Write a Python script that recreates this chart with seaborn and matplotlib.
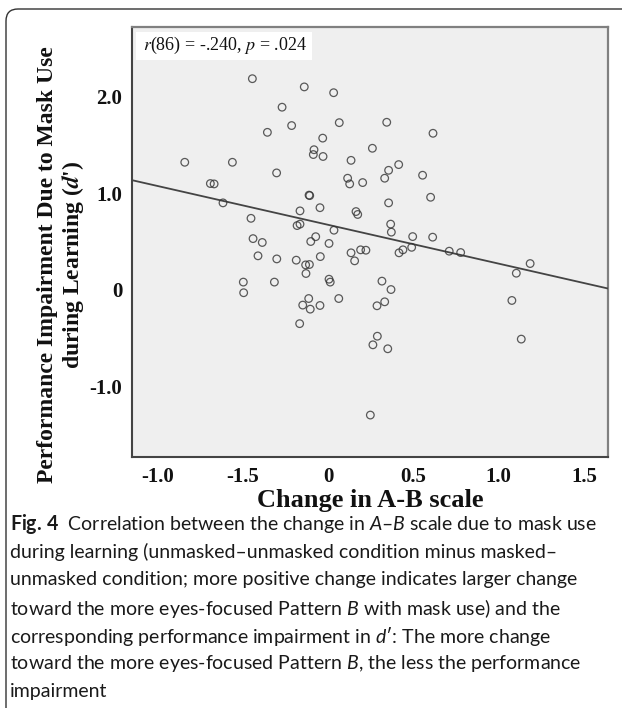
import numpy as np
import pandas as pd
import matplotlib
matplotlib.use("Agg")
import matplotlib.pyplot as plt
import seaborn as sns
from matplotlib.patches import FancyBboxPatch, Rectangle
from matplotlib.transforms import IdentityTransform

# ---------------- data ----------------
change_ab = [
    -0.443, -0.139, 0.033, -0.269, -0.213, 0.066, -0.355, -0.031, -0.082, -0.086,
    -0.029, -0.839, -0.560, 0.135, -0.301, 0.115, 0.127, 0.203, -0.689, -0.667,
    -0.111, -0.107, -0.615, -0.047, -0.164, 0.164, 0.174, -0.451, -0.181, -0.164,
    0.035, -0.439, -0.385, -0.101, -0.072, 0.006,
    0.344, 0.615, 0.260, 0.414, 0.355, 0.332, 0.554, 0.601, 0.355, 0.367,
    0.371, 0.496, 0.613,
    -0.410, -0.300, -0.186, -0.131, -0.109, -0.045, 0.135, 0.156, 0.191, 0.222,
    -0.129, -0.496, -0.494, -0.314, 0.006, 0.013, -0.113, -0.148, -0.104, -0.047,
    0.063, -0.166,
    0.416, 0.439, 0.490, 0.710, 0.777, 1.184, 1.103, 0.316, 0.369, 0.332,
    0.287, 1.077, 0.289, 0.263, 0.350, 1.132, 0.248,
]
impairment = [
    2.185, 2.100, 2.040, 1.890, 1.700, 1.730, 1.630, 1.570, 1.450, 1.400,
    1.380, 1.320, 1.320, 1.340, 1.210, 1.155, 1.096, 1.110, 1.100, 1.096,
    0.980, 0.975, 0.900, 0.850, 0.817, 0.810, 0.780, 0.740, 0.665, 0.680,
    0.617, 0.530, 0.490, 0.500, 0.550, 0.480,
    1.734, 1.620, 1.465, 1.296, 1.237, 1.155, 1.186, 0.958, 0.900, 0.680,
    0.597, 0.551, 0.545,
    0.352, 0.320, 0.307, 0.258, 0.262, 0.344, 0.383, 0.300, 0.414, 0.410,
    0.169, 0.080, -0.030, 0.080, 0.110, 0.080, -0.090, -0.158, -0.200, -0.162,
    -0.090, -0.350,
    0.383, 0.414, 0.440, 0.400, 0.386, 0.272, 0.172, 0.090, 0.003, -0.124,
    -0.165, -0.110, -0.480, -0.569, -0.610, -0.510, -1.296,
]
x_ticks = [-1.0, -0.5, 0.0, 0.5, 1.0, 1.5]
x_tick_labels = ["-1.0", "-1.5", "0", "0.5", "1.0", "1.5"]
y_ticks = [2.0, 1.0, 0.0, -1.0]
y_tick_labels = ["2.0", "1.0", "0", "-1.0"]
x_title = "Change in A-B scale"
y_title_1 = "Performance Impairment Due to Mask Use"
y_title_2 = "during Learning ($\\mathbfit{d}$')"
stat_text = "$r$(86) = -.240, $p$ = .024"
caption_lines = [
    r"$\mathbf{Fig.\,4}$  Correlation between the change in $\mathit{A}$–$\mathit{B}$ scale due to mask use",
    "during learning (unmasked–unmasked condition minus masked–",
    "unmasked condition; more positive change indicates larger change",
    r"toward the more eyes-focused Pattern $\mathit{B}$ with mask use) and the",
    r"corresponding performance impairment in $\mathit{d}$′: The more change",
    r"toward the more eyes-focused Pattern $\mathit{B}$, the less the performance",
    "impairment",
]

# ---------------- style ----------------
sns.set_style("white")
plt.rcParams["font.family"] = ["Liberation Serif", "DejaVu Serif"]
plt.rcParams["mathtext.fontset"] = "custom"
plt.rcParams["mathtext.rm"] = "Lato"
plt.rcParams["mathtext.it"] = "Lato:italic"
plt.rcParams["mathtext.bf"] = "Lato:bold"

W, H = 622, 708
fig = plt.figure(figsize=(W / 100, H / 100), dpi=100)
fig.patch.set_facecolor("white")

ax_l, ax_r, ax_t, ax_b = 132, 608, 27, 457
ax = fig.add_axes([ax_l / W, 1 - ax_b / H, (ax_r - ax_l) / W, (ax_b - ax_t) / H])
ax.set_facecolor("#efefef")
ax.set_xlim(-1.148, 1.64)
ax.set_ylim(-1.73, 2.72)

df = pd.DataFrame({"change": change_ab, "impair": impairment})
sns.regplot(
    data=df, x="change", y="impair", ax=ax, ci=None, truncate=False,
    color="#333333",
    scatter_kws=dict(s=30, facecolors="none", edgecolors="#333333", linewidths=0.9, zorder=4),
    line_kws=dict(color="#444444", lw=1.3, zorder=3),
)
ax.set_xlim(-1.148, 1.64)
ax.set_ylim(-1.73, 2.72)
ax.set_xlabel("")
ax.set_ylabel("")

ax.set_xticks(x_ticks, x_tick_labels)
ax.set_yticks(y_ticks, y_tick_labels)
ax.tick_params(axis="both", direction="out", length=5, width=1.2, color="#444444",
               labelsize=15, pad=2, labelcolor="#111111")
for lbl in ax.get_xticklabels() + ax.get_yticklabels():
    lbl.set_fontweight("bold")

for side in ["left", "bottom"]:
    ax.spines[side].set_color("#444444")
    ax.spines[side].set_linewidth(1.5)
for side in ["top", "right"]:
    ax.spines[side].set_color("#808080")
    ax.spines[side].set_linewidth(1.6)

# statistics box
ax.add_patch(Rectangle((0.008, 0.923), 0.37, 0.065, transform=ax.transAxes,
                       facecolor="white", edgecolor="none", zorder=5))
ax.text(0.023, 0.956, stat_text, transform=ax.transAxes, fontsize=13, va="center",
        ha="left", color="#111111", zorder=6, math_fontfamily="stix")

# axis titles
fig.text(370 / W, 1 - 500 / H, x_title, ha="center", va="center", fontsize=19,
         fontweight="bold", color="#111111")
fig.text(48 / W, 1 - 265 / H, y_title_1, ha="center", va="center", fontsize=17,
         fontweight="bold", color="#111111", rotation=90)
fig.text(73 / W, 1 - 265 / H, y_title_2, ha="center", va="center", fontsize=17,
         fontweight="bold", color="#111111", rotation=90, math_fontfamily="stix")

# caption
cap_family = ["Lato", "DejaVu Sans"]
renderer = fig.canvas.get_renderer()
probe = fig.text(0, 0, caption_lines[0], fontsize=12, family=cap_family)
w = probe.get_window_extent(renderer).width
probe.remove()
cap_size = 12 * 588 / w
for i, line in enumerate(caption_lines):
    fig.text(10 / W, 1 - (524 + 28 * i) / H, line, ha="left", va="center",
             fontsize=cap_size, family=cap_family, color="#1a1a1a")

# outer frame (top + left, rounded corner)
frame = FancyBboxPatch((6, -200), 1000, H - 9 + 200,
                       boxstyle="round,pad=0,rounding_size=12",
                       transform=IdentityTransform(), fill=False,
                       edgecolor="#333333", linewidth=1.0)
fig.add_artist(frame)

fig.savefig("out.png", dpi=100)
